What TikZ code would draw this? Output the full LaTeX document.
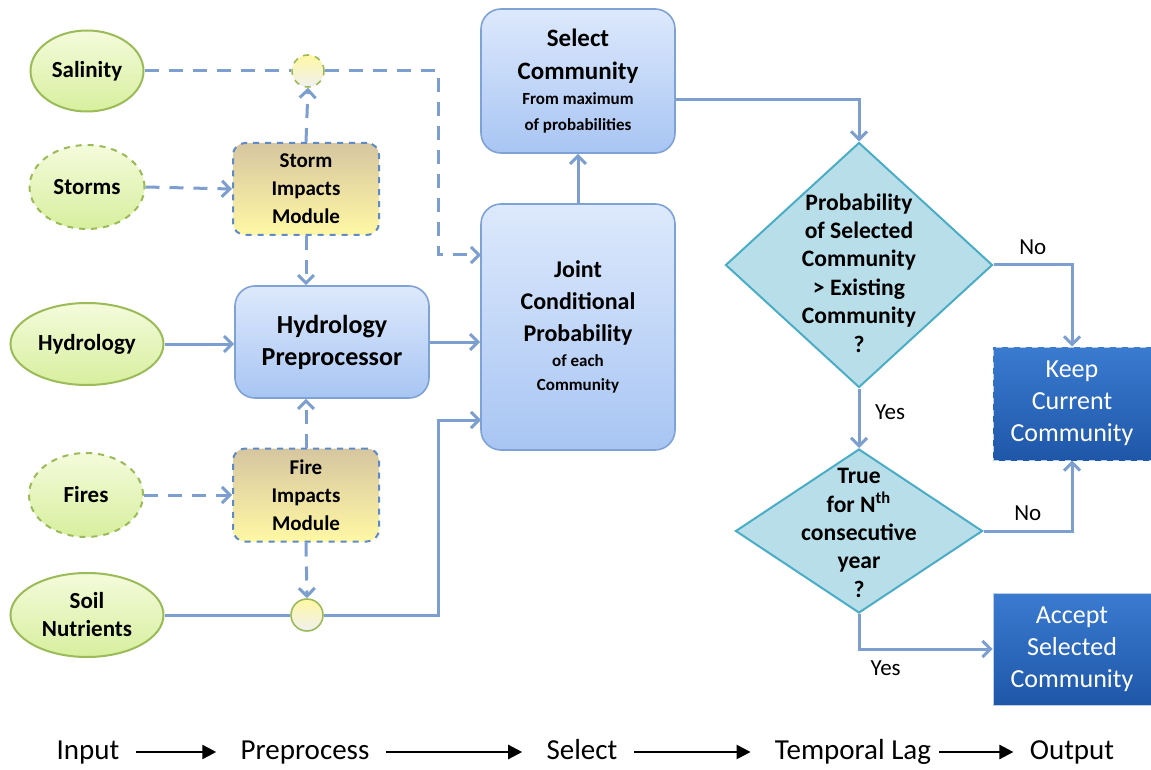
\documentclass[tikz,border=0pt]{standalone}
\usepackage{fontspec}
\setmainfont{Carlito}
\usepackage{tikz}
\usetikzlibrary{shapes.geometric}
\usetikzlibrary{arrows.meta}
\usepackage{xcolor}

\definecolor{flowblue}{HTML}{7C9FD0}
\definecolor{leafline}{HTML}{9BBB59}
\definecolor{leaftop}{HTML}{F4FBDB}
\definecolor{leafbot}{HTML}{D7EF9E}
\definecolor{boxtop}{HTML}{DDE9FC}
\definecolor{boxbot}{HTML}{A8C5F3}
\definecolor{boxline}{HTML}{7FA2D6}
\definecolor{tantop}{HTML}{D6C6A0}
\definecolor{tanbot}{HTML}{FFF8A4}
\definecolor{modline}{HTML}{5F8AC8}
\definecolor{qfill}{HTML}{B8DFE9}
\definecolor{qline}{HTML}{4BACC6}
\definecolor{deeptop}{HTML}{3A7BD0}
\definecolor{deepbot}{HTML}{1F57A8}

\begin{document}
\begin{tikzpicture}[x=0.5pt,y=-0.5pt,
  flow/.style={draw=flowblue, line width=1.5pt, -{Straight Barb[length=4pt,width=8pt]}},
  dflow/.style={flow, dash pattern=on 7pt off 5pt},
  driver/.style={ellipse, draw=leafline, line width=1pt, top color=leaftop, bottom color=leafbot,
    inner sep=0pt, align=center, font=\bfseries\fontsize{11.5}{14}\selectfont},
  joiner/.style={circle, draw=leafline, line width=0.8pt, minimum size=16pt, inner sep=0pt,
    top color=tanbot, bottom color=gray!12},
  module/.style={rectangle, rounded corners=6pt, draw=modline, line width=1pt, dashed,
    top color=tantop, bottom color=tanbot, minimum width=73pt, minimum height=46pt,
    align=center, font=\bfseries\fontsize{10.5}{14}\selectfont},
  stage/.style={rectangle, rounded corners=10pt, draw=boxline, line width=0.8pt,
    top color=boxtop, bottom color=boxbot, minimum width=97pt, align=center},
  decision/.style={diamond, draw=qline, line width=1pt, fill=qfill, inner sep=0pt},
  qtext/.style={align=center, font=\bfseries\fontsize{11.8}{14.2}\selectfont},
  result/.style={rectangle, draw=white!70!deepbot, line width=0.5pt, top color=deeptop, bottom color=deepbot,
    minimum width=79pt, text=white, align=center, font=\fontsize{13}{16}\selectfont},
  answer/.style={font=\fontsize{11.5}{14}\selectfont},
  phase/.style={font=\fontsize{14.5}{16}\selectfont, inner sep=0pt, text height=10.5pt, text depth=3pt},
  phasearrow/.style={draw=black, line width=1.2pt, -{Triangle[length=7pt,width=7pt]}}]

\useasboundingbox (0,0) rectangle (1151,770);

% inputs
\node [driver, minimum width=56.5pt, minimum height=40.5pt] (sal) at (87,71) {Salinity};
\node [driver, dashed, minimum width=57.5pt, minimum height=42pt] (storms) at (87,187) {Storms};
\node [driver, minimum width=76.5pt, minimum height=41pt] (hydro) at (87,344) {Hydrology};
\node [driver, dashed, minimum width=57pt, minimum height=42pt] (fires) at (86,495) {Fires};
\node [driver, minimum width=76.5pt, minimum height=42pt] (soil) at (87,615) {Soil\\Nutrients};

\node [joiner, dashed] (c1) at (308,71) {};
\node [joiner] (c2) at (307,615) {};

% preprocess
\node [module] (stormmod) at (306,189) {Storm\\Impacts\\Module};
\node [stage, minimum width=97pt, minimum height=56pt, font=\bfseries\fontsize{13}{16}\selectfont] (hydpre) at (332,342) {Hydrology\\Preprocessor};
\node [module, minimum height=46.5pt] (firemod) at (306,495) {Fire\\Impacts\\Module};

% select
\node [stage, minimum height=123pt] (joint) at (578,327)
  {\bfseries\fontsize{12}{16}\selectfont Joint\\[4pt] \bfseries\fontsize{12}{16}\selectfont Conditional\\[4pt] \bfseries\fontsize{12}{16}\selectfont Probability\\[0.5pt]
   \bfseries\fontsize{8.5}{11.5}\selectfont of each\\[0.2pt] \bfseries\fontsize{8.5}{11.5}\selectfont Community};
\node [stage, minimum height=72pt] (select) at (578,81)
  {\bfseries\fontsize{12.5}{16.5}\selectfont Select\\[4.5pt] \bfseries\fontsize{12.5}{16.5}\selectfont Community\\[0.5pt]
   \bfseries\fontsize{8.5}{11.5}\selectfont From maximum\\[1pt] \bfseries\fontsize{8.5}{11.5}\selectfont of probabilities};

\coordinate (jin1) at (481,255);
\coordinate (jin3) at (481,420);

% temporal lag
\node [decision, minimum width=133.5pt, minimum height=122.5pt,
  label={[qtext, yshift=-4pt]center:Probability\\of Selected\\Community\\> Existing\\Community\\?}] (q1) at (859,265) {};
\node [decision, minimum width=123.5pt, minimum height=82pt,
  label={[qtext, yshift=-1pt]center:True\\for N\textsuperscript{th}\\consecutive\\year\\?}] (q2) at (859,531) {};

% output
\node [result, dashed, minimum height=56.5pt] (keep) at (1072,403.5) {Keep\\Current\\Community};
\node [result, minimum height=56pt] (accept) at (1072,649) {Accept\\Selected\\Community};

% connectors
\draw [dflow, -] (sal.east) -- (c1.west);
\draw [dflow] (c1.east) -| ([xshift=-21.5pt]jin1) -- (jin1);
\draw [dflow] (storms.east) -- (stormmod.west);
\draw [dflow] (stormmod.north) -- (c1.south);
\draw [dflow] (stormmod.south) -- (stormmod.south |- hydpre.north);
\draw [flow] (hydro.east) -- (hydro.east -| hydpre.west);
\draw [flow] (hydpre.east) -- (hydpre.east -| joint.west);
\draw [dflow] (fires.east) -- (firemod.west);
\draw [dflow] (firemod.north) -- (firemod.north |- hydpre.south);
\draw [dflow] (firemod.south) -- (c2.north);
\draw [flow, -] (soil.east) -- (c2.west);
\draw [flow] (c2.east) -| ([xshift=-21.5pt]jin3) -- (jin3);
\draw [flow] (joint.north) -- (select.south);
\draw [flow] ([yshift=-9.5pt]select.east) -| (q1.north);
\draw [flow] (q1.east) -| node[answer, pos=0.25, above=1pt] {No} (keep.north);
\draw [flow] (q1.south) -- node[answer, right=4pt, pos=0.4] {Yes} (q2.north);
\draw [flow] (q2.east) -| node[answer, pos=0.25, above=1pt] {No} (keep.south);
\draw [flow] (q2.south) |- node[answer, pos=0.6, below=2pt] {Yes} (accept.west);

% phases
\node [phase] (p1) at (88,752) {Input};
\node [phase] (p2) at (305,752) {Preprocess};
\node [phase] (p3) at (582,752) {Select};
\node [phase] (p4) at (853,752) {Temporal Lag};
\node [phase] (p5) at (1072,752) {Output};
\draw [phasearrow, shorten <=8pt, shorten >=12pt] (p1) -- (p2);
\draw [phasearrow, shorten <=8pt, shorten >=12pt] (p2) -- (p3);
\draw [phasearrow, shorten <=8pt, shorten >=12pt] (p3) -- (p4);
\draw [phasearrow, shorten <=4pt, shorten >=8pt] (p4) -- (p5);
\end{tikzpicture}
\end{document}
